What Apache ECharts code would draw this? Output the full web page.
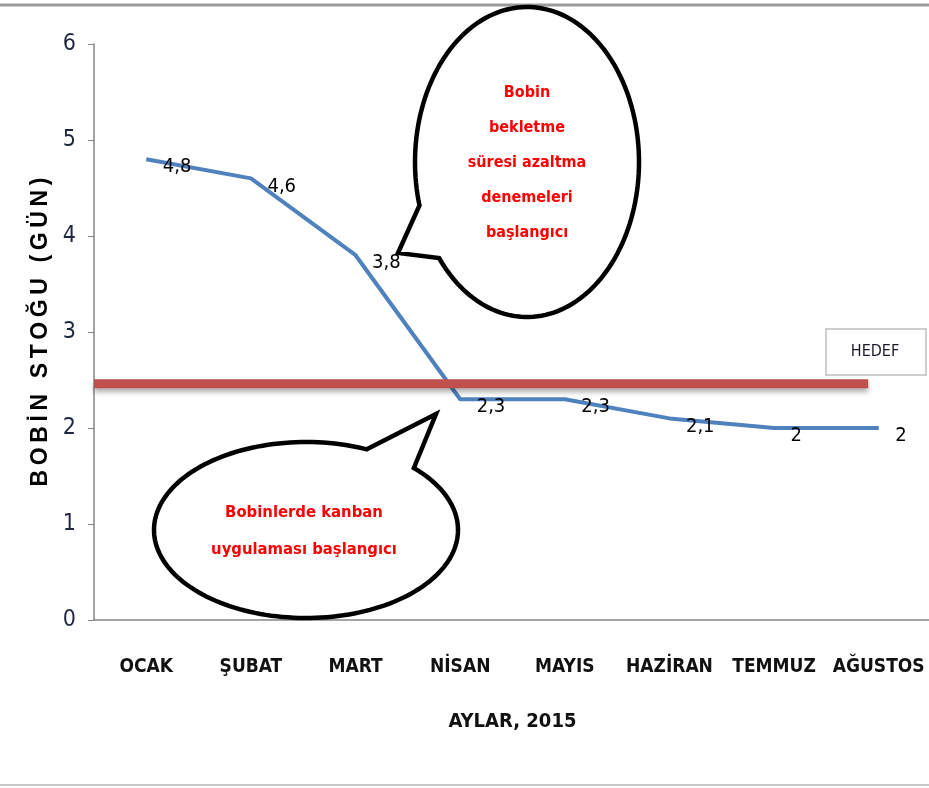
<!DOCTYPE html>
<html>
<head>
<meta charset="utf-8">
<script src="https://cdn.jsdelivr.net/npm/echarts@6/dist/echarts.min.js"></script>
<style>
  html, body { margin: 0; padding: 0; background: #fff; }
  #chart { width: 929px; height: 788px; }
</style>
</head>
<body>
<div id="chart"></div>
<script>
const months = ['OCAK', 'ŞUBAT', 'MART', 'NİSAN', 'MAYIS', 'HAZİRAN', 'TEMMUZ', 'AĞUSTOS']
const stock = [4.8, 4.6, 3.8, 2.3, 2.3, 2.1, 2.0, 2.0]
const yTicks = [0, 1, 2, 3, 4, 5, 6]
// hedef çizgisi: değer ve x aralığı (kategori indeksi cinsinden)
const hedef = 2.46
const hedefX = [-0.5, 6.9]

const narrow = "'Liberation Sans Narrow', 'DejaVu Sans Condensed', sans-serif"
const chart = echarts.init(document.getElementById('chart'))

// konuşma balonu: elips yayı + kuyruk, polygon noktaları
// a1 -> uç -> a2, sonra elips üzerinde uzun yoldan a1'e dönülür
const bubble = (cx, cy, rx, ry, a1, tip, a2, dir) => {
  const pts = [[cx + rx * Math.cos(a1), cy + ry * Math.sin(a1)], tip]
  let span = dir > 0 ? a1 - a2 : a2 - a1
  while (span <= 0) span += Math.PI * 2
  const n = 160
  for (let i = 0; i <= n; i++) {
    const a = a2 + dir * span * (i / n)
    pts.push([cx + rx * Math.cos(a), cy + ry * Math.sin(a)])
  }
  return pts
}

const option = {
  backgroundColor: '#fff',
  animation: false,
  grid: { left: 94, top: 44, width: 837, height: 576, outerBoundsMode: 'none', containLabel: false },
  xAxis: [
    {
      type: 'category',
      data: months,
      boundaryGap: true,
      name: 'AYLAR, 2015',
      nameLocation: 'middle',
      nameGap: 92,
      nameTextStyle: { fontFamily: narrow, fontWeight: 'bold', fontSize: 20, color: '#111' },
      axisLine: { lineStyle: { color: '#868686', width: 1.5 } },
      axisTick: { show: false },
      axisLabel: { fontFamily: narrow, fontWeight: 'bold', fontSize: 19, color: '#111', margin: 38, interval: 0 },
    },
    { type: 'value', min: -0.5, max: 7.5, show: false },
  ],
  yAxis: {
    type: 'value',
    min: yTicks[0],
    max: yTicks[yTicks.length - 1],
    interval: 1,
    name: 'B\u2009O\u2009B\u2009İ\u2009N\u2009 \u2009S\u2009T\u2009O\u2009Ğ\u2009U\u2009 \u2009(\u2009G\u2009Ü\u2009N\u2009)',
    nameLocation: 'middle',
    nameGap: 42,
    nameTextStyle: { fontFamily: "'Liberation Sans', Arial, sans-serif", fontWeight: 'bold', fontSize: 23, color: '#000' },
    axisLine: { show: true, onZero: false, lineStyle: { color: '#868686', width: 1.5 } },
    axisTick: { show: true, length: 6, lineStyle: { color: '#868686' } },
    splitLine: { show: false },
    axisLabel: { fontFamily: narrow, fontSize: 23, color: '#1f2640', margin: 18 },
  },
  series: [
    {
      name: 'Bobin stoğu',
      type: 'line',
      data: stock,
      symbol: 'circle',
      symbolSize: 1,
      itemStyle: { color: '#4f81bd' },
      z: 3,
      lineStyle: { color: '#4f81bd', width: 4 },
      label: {
        show: true,
        position: 'right',
        distance: 16,
        offset: [0, 8],
        fontFamily: narrow,
        fontSize: 20,
        color: '#000',
        formatter: (p) => String(p.value).replace('.', ','),
      },
    },
    {
      name: 'HEDEF',
      type: 'line',
      xAxisIndex: 1,
      data: hedefX.map((x) => [x, hedef]),
      symbol: 'none',
      z: 4,
      lineStyle: {
        color: '#c0504d',
        width: 9,
        shadowColor: 'rgba(0,0,0,0.3)',
        shadowBlur: 5,
        shadowOffsetY: 4,
      },
    },
  ],
  graphic: [
    { type: 'line', shape: { x1: 0, y1: 5, x2: 929, y2: 5 }, style: { stroke: '#9a9a9a', lineWidth: 3 } },
    { type: 'line', shape: { x1: 0, y1: 785, x2: 929, y2: 785 }, style: { stroke: '#c8c8c8', lineWidth: 2 } },
    {
      type: 'polygon',
      z: 10,
      shape: { points: bubble(527, 162, 112, 155, Math.atan2(0.28, -0.96), [398, 253], Math.atan2(0.62, -0.785), -1) },
      style: { fill: '#fff', stroke: '#000', lineWidth: 4.5, lineJoin: 'miter' },
    },
    {
      type: 'text',
      z: 11,
      x: 527,
      y: 163,
      style: {
        text: 'Bobin\nbekletme\nsüresi azaltma\ndenemeleri\nbaşlangıcı',
        fill: '#ff0000',
        fontFamily: narrow,
        fontWeight: 'bold',
        fontSize: 16,
        lineHeight: 35,
        align: 'center',
        verticalAlign: 'middle',
      },
    },
    {
      type: 'polygon',
      z: 10,
      shape: { points: bubble(306, 530, 152, 88, Math.atan2(-0.916, 0.4), [436, 414], Math.atan2(-0.705, 0.71), 1) },
      style: { fill: '#fff', stroke: '#000', lineWidth: 4.5, lineJoin: 'miter' },
    },
    {
      type: 'text',
      z: 11,
      x: 304,
      y: 531,
      style: {
        text: 'Bobinlerde kanban\nuygulaması başlangıcı',
        fill: '#ff0000',
        fontFamily: narrow,
        fontWeight: 'bold',
        fontSize: 16.5,
        lineHeight: 37,
        align: 'center',
        verticalAlign: 'middle',
      },
    },
    {
      type: 'rect',
      z: 10,
      shape: { x: 826, y: 329, width: 100, height: 46 },
      style: { fill: '#fff', stroke: '#bfbfbf', lineWidth: 1.5 },
    },
    {
      type: 'text',
      z: 11,
      x: 875,
      y: 352,
      style: { text: 'HEDEF', fill: '#1a1a2e', fontFamily: narrow, fontSize: 16, align: 'center', verticalAlign: 'middle' },
    },
  ],
}

chart.setOption(option)
</script>
</body>
</html>
